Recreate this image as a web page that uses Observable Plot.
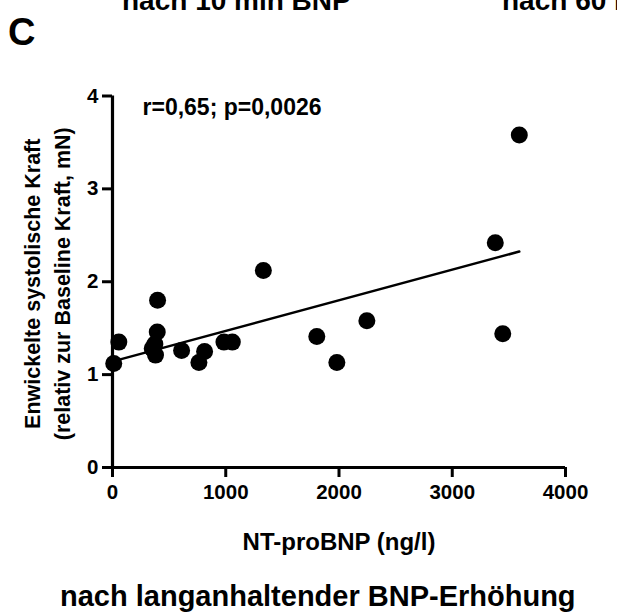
<!DOCTYPE html>
<html><head><meta charset="utf-8">
<script src="https://cdn.jsdelivr.net/npm/d3@7"></script>
<script src="https://cdn.jsdelivr.net/npm/@observablehq/plot@0.6"></script>
<style>
body{margin:0;background:#fff;}
#wrap{position:relative;width:617px;height:614px;overflow:hidden;}
#wrap svg{position:absolute;left:0;top:0;}
</style></head><body><div id="wrap"></div>
<script>
// data
const ntprobnp = [11, 56, 398, 395, 374, 380, 351, 610, 763, 813, 984, 1058, 1332, 1804, 1981, 2246, 3380, 3446, 3592];
const kraft    = [1.12, 1.35, 1.80, 1.46, 1.33, 1.21, 1.28, 1.26, 1.13, 1.25, 1.35, 1.35, 2.12, 1.41, 1.13, 1.58, 2.42, 1.44, 3.58];
const fitX = [11, 3592];
const fitY = [1.145, 2.325];
const xTicks = [0, 1000, 2000, 3000, 4000];
const yTicks = [0, 1, 2, 3, 4];
const statsText = "r=0,65; p=0,0026";
const xLabel = "NT-proBNP (ng/l)";
const yLabel1 = "Enwickelte systolische Kraft";
const yLabel2 = "(relativ zur Baseline Kraft, mN)";
const panelLetter = "C";
const headerLeft = "nach 10 min BNP";
const headerRight = "nach 60 min BNP";
const bottomTitle = "nach langanhaltender BNP-Erhöhung";

const points = ntprobnp.map((x, i) => ({x, y: kraft[i]}));
const fit = fitX.map((x, i) => ({x, y: fitY[i]}));
const FONT = "'Liberation Sans', Arial, Helvetica, sans-serif";

const chart = Plot.plot({
  width: 617,
  height: 614,
  marginLeft: 112,
  marginRight: 52,
  marginTop: 95.5,
  marginBottom: 147,
  style: {fontFamily: FONT, fontWeight: "bold", color: "#000", background: "transparent", overflow: "visible"},
  x: {domain: [0, 4000]},
  y: {domain: [0, 4]},
  marks: [
    Plot.axisX(xTicks, {tickSize: 10, strokeWidth: 3, fontSize: 20.5, tickPadding: 7, label: null, tickFormat: d => String(d)}),
    Plot.axisY(yTicks, {tickSize: 10, strokeWidth: 3, fontSize: 20.5, tickPadding: 4, label: null, tickFormat: d => String(d)}),
    Plot.ruleY([0], {strokeWidth: 3.2, stroke: "#000"}),
    Plot.ruleX([0], {strokeWidth: 3.2, stroke: "#000"}),
    Plot.line(fit, {x: "x", y: "y", stroke: "#000", strokeWidth: 2.5}),
    Plot.dot(points, {x: "x", y: "y", r: 8.5, fill: "#000", stroke: "none"}),
    Plot.text([statsText], {frameAnchor: "top-left", dx: 30, dy: 12, textAnchor: "start", lineAnchor: "middle", fontSize: 23, fontWeight: "bold", fill: "#000"}),
    Plot.text([xLabel], {frameAnchor: "bottom", dy: 75, textAnchor: "middle", lineAnchor: "middle", fontSize: 24, fontWeight: "bold", fill: "#000"}),
    Plot.text([yLabel1], {frameAnchor: "left", rotate: -90, dx: -79, dy: 2, textAnchor: "middle", lineAnchor: "middle", fontSize: 21.5, fontWeight: "bold", fill: "#000"}),
    Plot.text([yLabel2], {frameAnchor: "left", rotate: -90, dx: -49, dy: 2, textAnchor: "middle", lineAnchor: "middle", fontSize: 21.5, fontWeight: "bold", fill: "#000"})
  ]
});
const wrap = document.getElementById("wrap");
wrap.appendChild(chart);

// panel letter, cut-off neighbouring headers and bottom title
const ov = d3.select(wrap).append("svg").attr("width", 617).attr("height", 614)
  .style("font-family", FONT).style("font-weight", "bold");
ov.append("text").attr("x", 8).attr("y", 45).attr("font-size", 38).text(panelLetter);
ov.append("text").attr("x", 122).attr("y", 10).attr("font-size", 28).text(headerLeft);
ov.append("text").attr("x", 502).attr("y", 10).attr("font-size", 28).text(headerRight);
ov.append("text").attr("x", 60).attr("y", 606).attr("font-size", 29).text(bottomTitle);
</script></body></html>
